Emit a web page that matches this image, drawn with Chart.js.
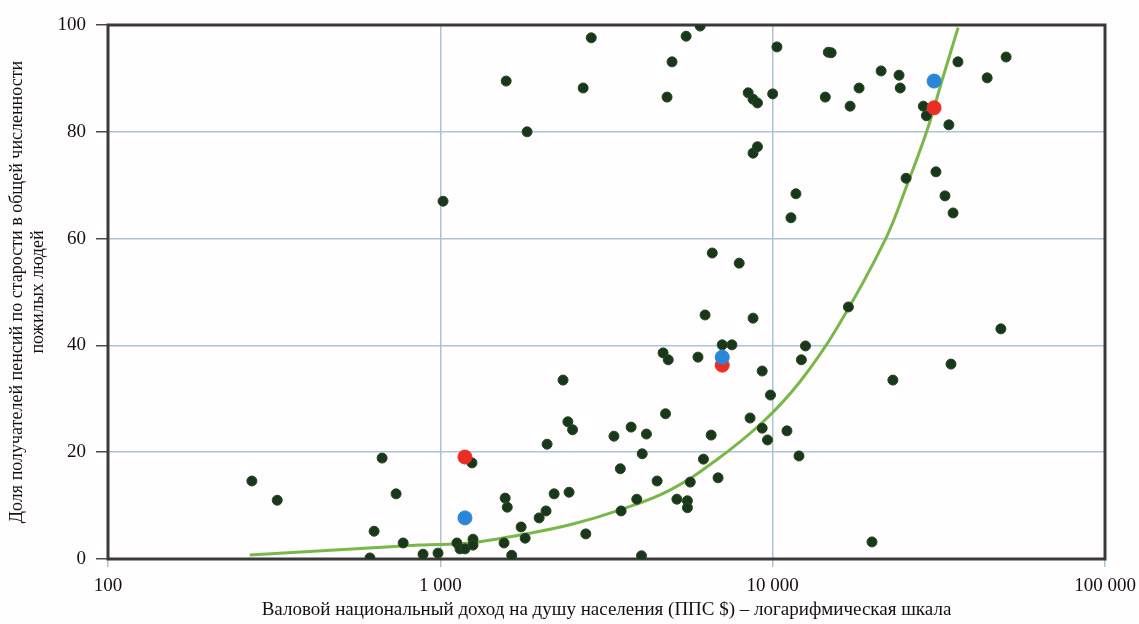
<!DOCTYPE html>
<html>
<head>
<meta charset="utf-8">
<script src="https://cdn.jsdelivr.net/npm/chart.js@4/dist/chart.umd.min.js"></script>
<style>
  html, body { margin: 0; padding: 0; background: #fffdfd; }
  canvas { display: block; }
</style>
</head>
<body>
<canvas id="chart" width="1139" height="624"></canvas>
<script>
// GNI per capita (PPP $) and share of old-age pension recipients, %
const countryPoints = [
    [271, 14.6], [323, 11.0], [614, 0.2], [632, 5.2], [668, 18.9], [736, 12.2], [773, 3.0],
    [887, 0.9], [984, 1.1], [1019, 67.0], [1122, 3.0], [1146, 1.9], [1186, 1.9], [1245, 18.0],
    [1254, 3.7], [1254, 2.6], [1555, 3.0], [1567, 11.4], [1578, 89.5], [1590, 9.7], [1640, 0.7],
    [1750, 6.0], [1800, 3.9], [1824, 80.0], [1983, 7.7], [2080, 9.0], [2095, 21.5], [2200, 12.2],
    [2340, 33.5], [2420, 25.7], [2440, 12.5], [2500, 24.2], [2690, 88.2], [2740, 4.7], [2845, 97.6],
    [3330, 23.0], [3480, 16.9], [3500, 9.0], [3750, 24.7], [3900, 11.2], [4030, 0.6], [4050, 19.7],
    [4170, 23.4], [4490, 14.6], [4680, 38.6], [4760, 27.2], [4810, 86.5], [4850, 37.3], [4980, 93.1],
    [5150, 11.2], [5490, 97.9], [5540, 10.9], [5540, 9.6], [5650, 14.4], [5960, 37.8], [6050, 99.8],
    [6190, 18.7], [6260, 45.7], [6530, 23.2], [6580, 57.3], [6850, 15.2], [7050, 40.1], [7540, 40.1],
    [7930, 55.4], [8440, 87.3], [8550, 26.4], [8730, 86.1], [8730, 45.1], [8730, 76.0], [9000, 85.4],
    [9000, 77.2], [9300, 35.2], [9300, 24.5], [9650, 22.3], [9850, 30.7], [10000, 87.1], [10300, 95.9],
    [11040, 24.0], [11350, 63.9], [11750, 68.4], [12000, 19.3], [12200, 37.3], [12550, 39.9],
    [14400, 86.5], [14700, 94.9], [15000, 94.8], [16900, 47.2], [17100, 84.8], [18200, 88.2],
    [19900, 3.2], [21200, 91.4], [23000, 33.5], [24000, 90.6], [24200, 88.2], [25200, 71.3],
    [28400, 84.8], [29000, 83.0], [31000, 72.5], [33000, 68.0], [33900, 81.3], [34400, 36.5],
    [34900, 64.8], [36100, 93.1], [44200, 90.1], [48600, 43.1], [50400, 94.0]
];
const redPoints = [[1186, 19.1], [7050, 36.3], [30600, 84.5]];
const bluePoints = [[1186, 7.7], [7050, 37.8], [30600, 89.5]];

// trend curve
const trendGni = [267, 869, 1227, 1737, 2455, 3473, 4910, 6757, 9360, 12080, 15630, 21780, 25350, 29150, 32580, 36140];
const trendShare = [0.75, 2.6, 3.0, 4.5, 6.4, 9.2, 12.9, 18.5, 25.7, 33.2, 43.3, 59.7, 70.0, 80.3, 90.3, 99.5];

const xTicks = [100, 1000, 10000, 100000];
const yTicks = [0, 20, 40, 60, 80, 100];

const toXY = arr => arr.map(p => ({ x: p[0], y: p[1] }));
const serif = '"Liberation Serif", "DejaVu Serif", serif';

// dark frame around the plot area
const frame = {
    id: 'frame',
    beforeDatasetsDraw(chart) {
        const a = chart.chartArea;
        const ctx = chart.ctx;
        ctx.save();
        ctx.strokeStyle = '#3a3a3a';
        ctx.lineWidth = 3;
        ctx.strokeRect(a.left, a.top, a.right - a.left, a.bottom - a.top);
        ctx.restore();
    }
};

new Chart(document.getElementById('chart'), {
    type: 'scatter',
    data: {
        datasets: [
            { data: toXY(bluePoints), backgroundColor: '#2a86d6', borderColor: '#2a86d6', pointRadius: 7, order: 0 },
            { data: toXY(redPoints), backgroundColor: '#ea2e24', borderColor: '#ea2e24', pointRadius: 7, order: 1 },
            { data: toXY(countryPoints), backgroundColor: '#18381c', borderColor: '#2c4420', borderWidth: 1, pointRadius: 5, order: 2 },
            {
                type: 'line',
                data: trendGni.map((g, i) => ({ x: g, y: trendShare[i] })),
                borderColor: '#78b848',
                borderWidth: 3,
                pointRadius: 0,
                tension: 0.4,
                order: 3
            }
        ]
    },
    options: {
        responsive: false,
        animation: false,
        devicePixelRatio: 1,
        layout: { padding: { top: 25, right: 34, left: 0, bottom: 0 } },
        plugins: { legend: { display: false }, tooltip: { enabled: false } },
        scales: {
            x: {
                type: 'logarithmic',
                min: 100,
                max: 100000,
                afterBuildTicks: s => { s.ticks = xTicks.map(v => ({ value: v })); },
                afterFit: s => { s.height = 65; s.paddingLeft = 0; s.paddingRight = 0; },
                grid: { color: '#a9c5da', lineWidth: 1.5, tickLength: 8, tickColor: '#a9c5da' },
                border: { display: false },
                ticks: {
                    color: '#111',
                    font: { family: serif, size: 19 },
                    padding: 8,
                    maxRotation: 0,
                    callback: v => v.toString().replace(/\B(?=(\d{3})+(?!\d))/g, ' ')
                },
                title: {
                    display: true,
                    text: 'Валовой национальный доход на душу населения (ППС $) – логарифмическая шкала',
                    color: '#111',
                    font: { family: serif, size: 19 },
                    padding: { top: 0, bottom: 3 }
                }
            },
            y: {
                min: 0,
                max: 100,
                afterBuildTicks: s => { s.ticks = yTicks.map(v => ({ value: v })); },
                afterFit: s => { s.width = 108; },
                grid: { color: '#a9c5da', lineWidth: 1.5, tickLength: 12, tickColor: '#4a4a4a' },
                border: { display: false },
                ticks: { color: '#111', font: { family: serif, size: 19 }, padding: 10 },
                title: {
                    display: true,
                    text: ['Доля получателей пенсий по старости в общей численности', 'пожилых людей'],
                    color: '#111',
                    font: { family: serif, size: 18, lineHeight: 1.2 },
                    padding: { top: 6, bottom: 0 }
                }
            }
        }
    },
    plugins: [frame]
});
</script>
</body>
</html>
